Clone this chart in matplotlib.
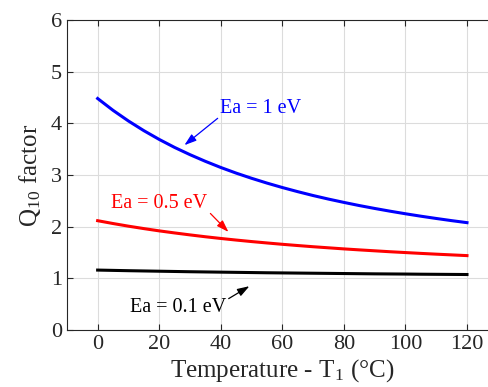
import matplotlib
matplotlib.use('Agg')
import matplotlib.pyplot as plt

plt.rcParams['font.family'] = 'Liberation Serif'
plt.rcParams['mathtext.fontset'] = 'stix'

temp = [0, 5, 10, 15, 20, 25, 30, 35, 40, 45, 50, 55, 60,
        65, 70, 75, 80, 85, 90, 95, 100, 105, 110, 115, 120]
q10_ea1 = [4.483, 4.254, 4.048, 3.861, 3.691, 3.536, 3.396, 3.267, 3.148, 3.039, 2.939, 2.846, 2.760,
           2.680, 2.605, 2.536, 2.472, 2.411, 2.355, 2.302, 2.252, 2.205, 2.161, 2.119, 2.080]
q10_ea05 = [2.118, 2.063, 2.012, 1.965, 1.921, 1.881, 1.843, 1.807, 1.774, 1.743, 1.714, 1.687, 1.661,
            1.637, 1.614, 1.593, 1.572, 1.553, 1.535, 1.517, 1.501, 1.485, 1.470, 1.456, 1.442]
q10_ea01 = [1.162, 1.156, 1.150, 1.145, 1.140, 1.135, 1.130, 1.126, 1.122, 1.118, 1.114, 1.110, 1.107,
            1.104, 1.101, 1.098, 1.095, 1.092, 1.089, 1.087, 1.085, 1.082, 1.080, 1.078, 1.076]

fig = plt.figure(figsize=(4.88, 3.87), dpi=100)
ax = fig.add_axes([0.137, 0.147, 0.883, 0.801])

ax.plot(temp, q10_ea1, color='blue', linewidth=2.2)
ax.plot(temp, q10_ea05, color='red', linewidth=2.2)
ax.plot(temp, q10_ea01, color='black', linewidth=2.2)

ax.set_xlim(-10, 130)
ax.set_ylim(0, 6)
ax.set_xticks([0, 20, 40, 60, 80, 100, 120])
ax.set_yticks([0, 1, 2, 3, 4, 5, 6])
ax.tick_params(direction='in', top=True, right=True, labelsize=16, length=4, color='#262626', labelcolor='#262626')
ax.grid(True, color='#dcdcdc', linewidth=0.8)
for s in ax.spines.values():
    s.set_color('#262626')

ax.set_xlabel('Temperature - T$_\\mathregular{1}$ (°C)', fontsize=18, color='#262626', labelpad=2)
ax.set_ylabel('Q$_\\mathregular{10}$ factor', fontsize=18, color='#262626', labelpad=6)

arrow = dict(arrowstyle='-|>,head_width=0.2,head_length=0.6', linewidth=0.9, mutation_scale=12,
             shrinkA=0, shrinkB=0)
ax.annotate('Ea = 1 eV', xy=(28.2, 3.58), xytext=(39.9, 4.29), color='blue', fontsize=14.5,
            va='center', ha='left', arrowprops=dict(arrow, color='blue', relpos=(0, 0.1)))
ax.annotate('Ea = 0.5 eV', xy=(42.5, 1.9), xytext=(4.5, 2.46), color='red', fontsize=14.5,
            va='center', ha='left', arrowprops=dict(arrow, color='red', relpos=(1, 0.1)))
ax.annotate('Ea = 0.1 eV', xy=(49.3, 0.85), xytext=(10.4, 0.43), color='black', fontsize=14.5,
            va='center', ha='left', arrowprops=dict(arrow, color='black', relpos=(1, 0.9)))

fig.savefig('out.png', dpi=100)
